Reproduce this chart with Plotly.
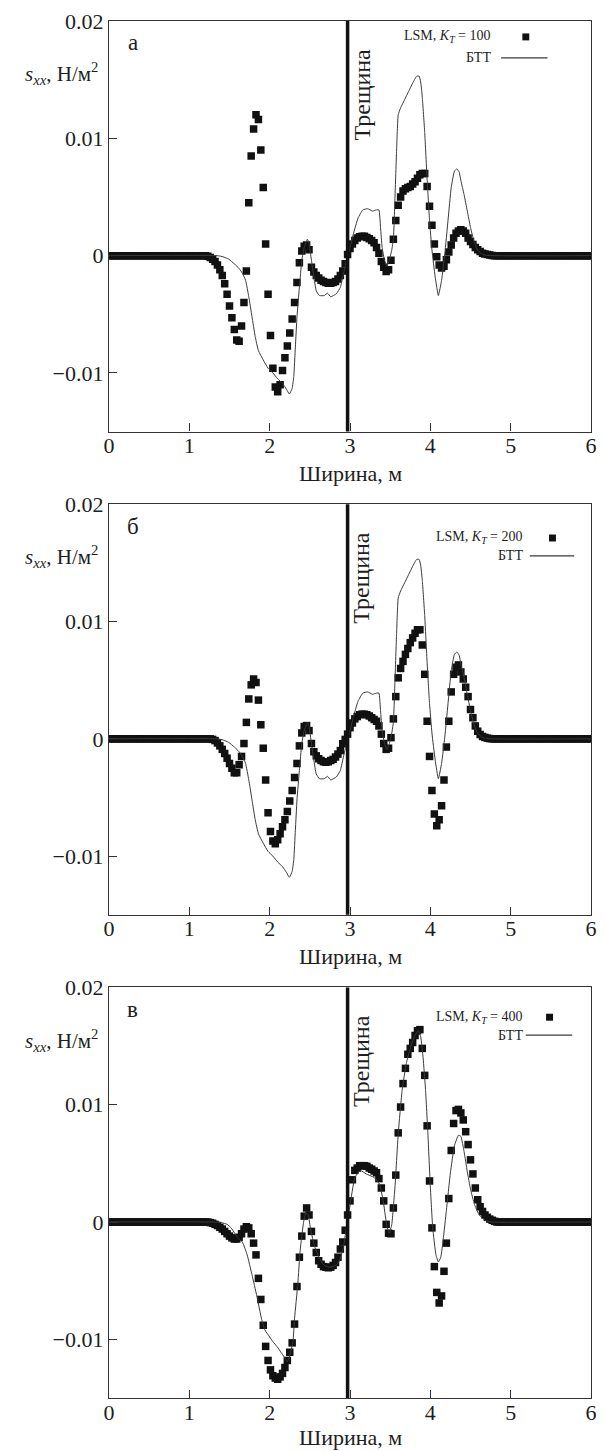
import plotly.graph_objects as go
import numpy as np

# ---------------- DATA (stress values in units of 1e-3 N/m^2) ----------------
x_lsm = [round(0.03 * i, 2) for i in range(201)]  # LSM sampling grid, 0..6 m

lsm_a = [
    0, 0, 0, 0, 0, 0, 0, 0, 0, 0, 0, 0, 0, 0, 0, 0, 0, 0, 0, 0,
    0, 0, 0, 0, 0, 0, 0, 0, 0, 0, 0, 0, 0, 0, 0, 0, 0, 0, 0, 0,
    0, -0.05, -0.15, -0.3, -0.5, -0.8, -1.2, -1.7, -2.4, -3.3,
    -4.3, -5.3, -6.3, -7.2, -7.3, -6.0, -4.0, -1.3, 4.5, 8.5,
    10.8, 12.0, 11.6, 9.0, 5.8, 1.0, -3.3, -6.8, -9.6, -11.2,
    -11.6, -11.0, -9.8, -8.7, -7.7, -6.6, -5.4, -4.0, -2.3, -0.6,
    0.4, 0.8, 0.9, 0.5, -1.0, -1.4, -1.7, -1.9, -2.1, -2.2,
    -2.3, -2.35, -2.35, -2.3, -2.2, -2.0, -1.7, -1.3, -0.7, 0.1,
    0.6, 1.0, 1.3, 1.5, 1.6, 1.65, 1.65, 1.55, 1.45, 1.3,
    1.1, 0.7, 0.2, -0.5, -1.0, -1.35, -1.2, -0.4, 1.4, 3.0,
    4.3, 5.0, 5.5, 5.7, 5.8, 5.9, 6.1, 6.3, 6.6, 6.9,
    7.0, 7.0, 5.9, 4.2, 2.6, 1.0, -0.1, -0.8, -1.05, -0.9,
    -0.35, 0.3, 0.9, 1.5, 1.9, 2.1, 2.2, 2.1, 1.9, 1.5,
    1.2, 0.95, 0.7, 0.5, 0.35, 0.2, 0.15, 0.1, 0.05, 0.02,
    0, 0, 0, 0, 0, 0, 0, 0, 0, 0, 0, 0, 0, 0, 0, 0, 0, 0, 0, 0,
    0, 0, 0, 0, 0, 0, 0, 0, 0, 0, 0, 0, 0, 0, 0, 0, 0, 0, 0, 0, 0,
]

lsm_b = [
    0, 0, 0, 0, 0, 0, 0, 0, 0, 0, 0, 0, 0, 0, 0, 0, 0, 0, 0, 0,
    0, 0, 0, 0, 0, 0, 0, 0, 0, 0, 0, 0, 0, 0, 0, 0, 0, 0, 0, 0,
    0, 0, 0, -0.05, -0.15, -0.35, -0.6, -0.9, -1.25, -1.65,
    -2.1, -2.5, -2.9, -2.9, -2.2, -1.5, -0.4, 1.4, 3.4, 4.6,
    5.1, 4.8, 3.3, 1.2, -0.8, -3.5, -6.3, -7.9, -8.7, -8.95,
    -8.6, -8.1, -7.5, -6.9, -6.2, -5.3, -4.4, -3.3, -2.1, -0.6,
    0.5, 1.05, 1.13, 0.7, -0.4, -1.1, -1.45, -1.7, -1.85, -1.95,
    -2.0, -1.95, -1.85, -1.75, -1.55, -1.3, -1.0, -0.42, -0.05, 0.4,
    0.95, 1.35, 1.7, 1.9, 2.05, 2.1, 2.1, 2.05, 1.95, 1.8,
    1.65, 1.5, 1.1, 0.4, -0.4, -0.9, -0.8, 0.1, 1.7, 3.6,
    5.2, 6.0, 6.6, 7.2, 7.7, 8.2, 8.6, 9.0, 9.3, 9.3,
    8.0, 5.5, 1.5, -1.5, -4.4, -6.4, -7.4, -6.9, -5.7, -3.5,
    -0.7, 1.5, 4.0, 5.5, 6.1, 6.3, 5.7, 5.1, 4.4, 3.6,
    2.5, 1.8, 1.1, 0.65, 0.37, 0.2, 0.12, 0.06, 0.02, 0,
    0, 0, 0, 0, 0, 0, 0, 0, 0, 0, 0, 0, 0, 0, 0, 0, 0, 0, 0, 0,
    0, 0, 0, 0, 0, 0, 0, 0, 0, 0, 0, 0, 0, 0, 0, 0, 0, 0, 0, 0, 0,
]

lsm_c = [
    0, 0, 0, 0, 0, 0, 0, 0, 0, 0, 0, 0, 0, 0, 0, 0, 0, 0, 0, 0,
    0, 0, 0, 0, 0, 0, 0, 0, 0, 0, 0, 0, 0, 0, 0, 0, 0, 0, 0, 0,
    0, 0, -0.05, -0.1, -0.2, -0.3, -0.45, -0.6, -0.8, -1.0,
    -1.2, -1.35, -1.45, -1.45, -1.3, -1.0, -0.6, -0.4, -0.5, -1.0,
    -1.8, -2.8, -4.8, -6.6, -8.8, -10.6, -11.8, -12.6, -13.1, -13.3,
    -13.4, -13.2, -12.9, -12.4, -11.8, -11.1, -10.3, -8.7, -5.5, -3.0,
    -1.2, 0.5, 1.2, 0.6, -0.8, -1.8, -2.6, -3.3, -3.6, -3.8,
    -3.85, -3.9, -3.85, -3.7, -3.45, -3.0, -2.3, -1.7, -0.7, 0.6,
    1.8, 3.6, 4.4, 4.6, 4.8, 4.8, 4.8, 4.75, 4.6, 4.5,
    4.35, 4.2, 3.7, 2.9, 1.8, -0.2, -0.95, -1.0, 1.2, 4.0,
    7.6, 9.8, 11.8, 13.1, 14.3, 14.8, 15.3, 15.9, 16.3, 16.4,
    14.8, 12.5, 8.2, 3.5, -0.5, -3.8, -6.0, -6.9, -6.3, -4.2,
    -1.8, 2.0, 6.1, 8.4, 9.5, 9.6, 9.3, 8.7, 7.7, 6.6,
    5.3, 4.1, 2.9, 1.9, 1.3, 0.9, 0.6, 0.4, 0.25, 0.15,
    0.06, 0, 0, 0, 0, 0, 0, 0, 0, 0, 0, 0, 0, 0, 0, 0, 0, 0, 0, 0,
    0, 0, 0, 0, 0, 0, 0, 0, 0, 0, 0, 0, 0, 0, 0, 0, 0, 0, 0, 0, 0,
]

x_btt_ab = [0, 1.35, 1.42, 1.49, 1.56, 1.62, 1.66, 1.70, 1.74, 1.78, 1.82, 1.86,
            1.92, 1.98, 2.04, 2.10, 2.16, 2.21, 2.245, 2.28, 2.30, 2.32, 2.34,
            2.37, 2.40, 2.43, 2.47, 2.49, 2.52, 2.55, 2.58, 2.62, 2.68, 2.72,
            2.76, 2.83, 2.88, 2.91, 2.95, 2.98, 3.04, 3.10, 3.16, 3.22, 3.28,
            3.33, 3.36, 3.38, 3.40, 3.43, 3.46, 3.49, 3.52, 3.54, 3.56, 3.58,
            3.60, 3.63, 3.68, 3.73, 3.78, 3.83, 3.86, 3.88, 3.90, 3.93, 3.96,
            3.99, 4.02, 4.06, 4.10, 4.14, 4.18, 4.22, 4.26, 4.30, 4.33, 4.36,
            4.38, 4.42, 4.46, 4.50, 4.54, 4.58, 4.64, 4.70, 6.0]
btt_ab = [0, 0, -0.1, -0.3, -0.7, -1.1, -1.5, -2.1, -3.5, -5.2, -6.9, -8.1,
          -8.9, -9.6, -10.0, -10.5, -10.9, -11.4, -11.8, -11.3, -10.3, -7.8, -5.2,
          -2.7, -0.4, 0.7, 1.4, 1.05, -0.4, -1.8, -3.0, -3.4, -3.4, -3.2,
          -3.5, -3.25, -2.7, -1.8, -0.6, 0.14, 1.8, 3.2, 3.9, 4.0, 3.8,
          3.9, 3.9, 2.4, 0.7, -0.4, -0.9, -0.4, 0.5, 1.4, 5.0, 9.0,
          12.0, 12.6, 13.3, 14.0, 14.7, 15.3, 15.3, 14.8, 13.5, 10.5, 6.5,
          3.0, 0.5, -1.8, -3.4, -2.1, 0.14, 3.0, 5.8, 7.2, 7.4, 7.1,
          6.4, 5.2, 3.8, 2.4, 1.3, 0.56, 0.14, 0.02, 0]

x_btt_c = [0, 1.30, 1.40, 1.47, 1.52, 1.57, 1.61, 1.66, 1.72, 1.78, 1.84, 1.90,
           1.94, 1.99, 2.04, 2.09, 2.14, 2.18, 2.22, 2.25, 2.29, 2.31, 2.35,
           2.38, 2.42, 2.45, 2.48, 2.51, 2.56, 2.62, 2.68, 2.75, 2.82, 2.87,
           2.92, 2.96, 3.00, 3.06, 3.13, 3.20, 3.30, 3.37, 3.42, 3.46, 3.49,
           3.52, 3.56, 3.60, 3.65, 3.70, 3.75, 3.80, 3.85, 3.88, 3.91, 3.94,
           3.97, 4.00, 4.03, 4.07, 4.10, 4.13, 4.16, 4.20, 4.25, 4.30, 4.35,
           4.38, 4.42, 4.46, 4.50, 4.55, 4.60, 4.65, 4.70, 4.76, 6.0]
btt_c = [0, 0, -0.05, -0.2, -0.5, -1.0, -1.4, -1.7, -2.8, -4.5, -6.3, -8.3,
         -9.2, -9.7, -10.2, -10.6, -11.1, -11.5, -11.9, -11.4, -10.2, -8.2, -5.3,
         -2.4, -0.1, 0.8, 0.6, -0.66, -2.1, -3.1, -3.7, -3.85, -3.7, -3.3,
         -2.1, -0.2, 1.4, 3.8, 4.4, 4.1, 3.8, 3.2, 1.5, -0.4, -0.95,
         -0.2, 3.0, 7.5, 11.3, 13.5, 14.8, 15.8, 16.3, 15.8, 14.0, 11.3,
         7.5, 3.0, -0.5, -2.8, -3.4, -3.0, -1.5, 1.0, 4.2, 6.5, 7.4,
         7.3, 6.0, 4.3, 2.8, 1.5, 0.7, 0.3, 0.1, 0.0, 0]

panel_letters = ["а", "б", "в"]
k_values = [100, 200, 400]
x_ticks = [0, 1, 2, 3, 4, 5, 6]
x_ticktext = ["0", "1", "2", "3", "4", "5", "6"]
y_ticks = [-0.01, 0, 0.01, 0.02]
y_ticktext = ["\u22120.01", "0", "0.01", "0.02"]
crack_x = 2.97
milli = 1e-3

series = [
    (lsm_a, x_btt_ab, btt_ab),
    (lsm_b, x_btt_ab, btt_ab),
    (lsm_c, x_btt_c, btt_c),
]

# ---------------- LAYOUT ----------------
FONT = "'Liberation Serif', 'Times New Roman', Times, serif"
W, H = 606, 1451
ML, MR, MT, MB = 109, 9, 13, 53
PH = H - MT - MB  # 1385
PW = W - ML - MR  # 488
panel_tops = [13, 499, 985]
panel_h = 413
title_shift = [-42, -42, -39]
INK = "#1e1e1e"

def ydom(top):
    bottom = top + panel_h
    lo = max(0.0, (H - MB - bottom) / PH)
    hi = min(1.0, (H - MB - top) / PH)
    return [lo, hi]

fig = go.Figure()

legend_pos = [
    # text_right_px, lsm_y_off, marker_px, btt_y_off, line_x0, line_x1
    (498, 16, 531, 37, 506, 553),
    (530, 34, 558, 52, 535, 580),
    (530, 30, 555, 48, 531, 578),
]

for i, (lsm, xb, btt) in enumerate(series):
    n = "" if i == 0 else str(i + 1)
    xa, ya = "x" + n, "y" + n
    fig.add_trace(go.Scatter(
        x=x_lsm, y=np.array(lsm) * milli, mode="markers",
        marker=dict(symbol="square", size=7.5, color="#111111", line=dict(width=0)),
        xaxis=xa, yaxis=ya, showlegend=False, hoverinfo="skip"))
    fig.add_trace(go.Scatter(
        x=xb, y=np.array(btt) * milli, mode="lines",
        line=dict(color="#3a3a3a", width=1, shape="spline", smoothing=0.4),
        xaxis=xa, yaxis=ya, showlegend=False, hoverinfo="skip"))

    axis_common = dict(showline=True, linecolor="#333333", linewidth=1.3, mirror=True,
                       ticks="inside", ticklen=8, tickwidth=1.3, tickcolor="#333333",
                       showgrid=False, zeroline=False,
                       tickfont=dict(family=FONT, size=22, color=INK))
    fig.layout["xaxis" + n] = dict(axis_common, domain=[0, 1], anchor=ya,
                                   range=[0, 6], tickvals=x_ticks, ticktext=x_ticktext,
                                   ticklabelstandoff=-6)
    fig.layout["yaxis" + n] = dict(axis_common, domain=ydom(panel_tops[i]), anchor=xa,
                                   range=[-0.015, 0.02], tickvals=y_ticks,
                                   ticktext=y_ticktext, ticklabelstandoff=0)

    xd, yd = xa + " domain", ya + " domain"
    # crack line
    fig.add_shape(type="line", xref=xa, yref=yd, x0=crack_x, x1=crack_x, y0=0, y1=1,
                  line=dict(color="#111111", width=3.5))
    fig.add_annotation(xref=xa, yref=ya, x=crack_x, y=0.0137, xshift=14,
                       text="Трещина", textangle=-90, showarrow=False,
                       font=dict(family=FONT, size=24, color=INK))
    # panel letter
    fig.add_annotation(xref=xd, yref=yd, x=(133 - ML) / PW, y=1 - 22 / panel_h,
                       xanchor="center", yanchor="middle",
                       text=panel_letters[i], showarrow=False,
                       font=dict(family=FONT, size=23, color=INK))
    # y title
    fig.add_annotation(xref="paper", yref=yd, x=(100 - ML) / PW, y=1 - 53 / panel_h,
                       xanchor="right", yanchor="middle",
                       text="<i>s</i><sub><i>xx</i></sub>, Н/м<sup>2</sup>", showarrow=False,
                       font=dict(family=FONT, size=21, color=INK))
    # x title
    fig.add_annotation(xref=xd, yref=yd, x=0.5, y=0, yshift=title_shift[i], yanchor="middle",
                       text="Ширина, м", showarrow=False,
                       font=dict(family=FONT, size=22, color=INK))
    # legend
    tr, ly, mx, by, l0, l1 = legend_pos[i]
    fig.add_annotation(xref=xd, yref=yd, x=(tr - ML) / PW, y=1 - ly / panel_h,
                       xanchor="right", yanchor="middle",
                       text="LSM, <i>K</i><sub><i>T</i></sub> = %d" % k_values[i],
                       showarrow=False, font=dict(family=FONT, size=14, color=INK))
    fig.add_shape(type="rect", xref=xd, yref=yd,
                  x0=(mx - 3.5 - ML) / PW, x1=(mx + 3.5 - ML) / PW,
                  y0=1 - (ly + 3.5) / panel_h, y1=1 - (ly - 3.5) / panel_h,
                  fillcolor="#111111", line=dict(width=0))
    fig.add_annotation(xref=xd, yref=yd, x=(tr - ML) / PW, y=1 - by / panel_h,
                       xanchor="right", yanchor="middle", text="БТТ",
                       showarrow=False, font=dict(family=FONT, size=14, color=INK))
    fig.add_shape(type="line", xref=xd, yref=yd,
                  x0=(l0 - ML) / PW, x1=(l1 - ML) / PW,
                  y0=1 - by / panel_h, y1=1 - by / panel_h,
                  line=dict(color="#3a3a3a", width=1.2))

fig.update_layout(width=W, height=H, margin=dict(l=ML, r=MR, t=MT, b=MB),
                  paper_bgcolor="white", plot_bgcolor="white", showlegend=False,
                  font=dict(family=FONT))

fig.write_html("out.html", config={"displayModeBar": False},
               post_script="document.body.style.margin='0';"
                           "document.documentElement.style.overflow='hidden';")
